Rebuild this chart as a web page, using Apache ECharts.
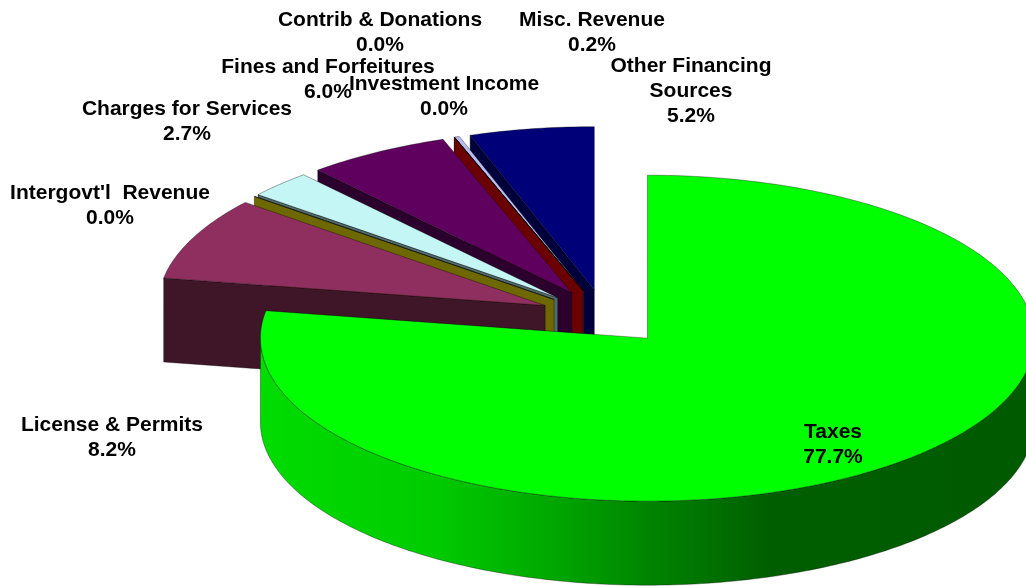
<!DOCTYPE html>
<html>

<head>
    <meta charset="utf-8">
    <title>Revenue pie</title>
    <script src="https://cdn.jsdelivr.net/npm/echarts@6/dist/echarts.min.js"></script>
    <style>
        html, body { margin: 0; padding: 0; background: #fff; }
        /* the source picture is a soft, resampled image */
        #main { filter: blur(0.45px); }
    </style>
</head>

<body>
    <div id="main" style="width: 1026px;height:586px;"></div>

    <script type="text/javascript">
        var categories = ['Taxes', 'License & Permits', "Intergovt'l  Revenue", 'Charges for Services',
            'Fines and Forfeitures', 'Investment Income', 'Contrib & Donations', 'Misc. Revenue',
            'Other Financing\nSources'];
        var values = [77.7, 8.2, 0.0, 2.7, 6.0, 0.0, 0.0, 0.2, 5.2];

        // top face and wall colours, same order as categories
        var topColors = ['#00ff00', '#8f2f5f', '#807a00', '#c4f6f6', '#5f005f', '#800000', '#7a0000', '#b8bcf0', '#000078'];
        var wallColors = ['#00a000', '#3e1628', '#6e6800', '#50696b', '#2c002c', '#6a0000', '#6a0000', '#8085b0', '#00003a'];

        // label anchors: centre x, top of first line
        var labelPos = [[833, 419], [112, 412], [110, 180], [187, 96], [328, 54], [444, 71], [380, 7], [592, 7], [691, 53]];

        var pie = { cx: 605, cy: 317, a: 387, b: 163, depth: 84, explode: 0.17 };

        var total = values.reduce(function (s, v) { return s + v; }, 0);
        var startDeg = [];
        var sum = 0;
        values.forEach(function (v) {
            startDeg.push(sum / total * 360);
            sum += v;
        });

        function pt(origin, deg, dy) {
            var r = deg * Math.PI / 180;
            return [origin[0] + pie.a * Math.sin(r), origin[1] - pie.b * Math.cos(r) + (dy || 0)];
        }

        function arc(origin, from, to, dy) {
            var out = [];
            var n = Math.max(1, Math.ceil(Math.abs(to - from)));
            for (var i = 0; i <= n; i++) {
                out.push(pt(origin, from + (to - from) * i / n, dy));
            }
            return out;
        }

        var edge = { stroke: 'rgba(0,0,0,0.5)', lineWidth: 0.7 };

        function renderSlice(params, api) {
            var idx = api.value(0);
            var s = startDeg[idx];
            var e = s + values[idx] / total * 360;
            var mid = (s + e) / 2 * Math.PI / 180;
            // each slice moves out along its own middle angle
            var o = [pie.cx + pie.explode * pie.a * Math.sin(mid), pie.cy - pie.explode * pie.b * Math.cos(mid)];
            var children = [];

            // cut wall on the start side only shows on the left half
            if (s > 180 && s < 360) {
                var outer = pt(o, s);
                children.push({
                    type: 'polygon',
                    shape: { points: [o, outer, [outer[0], outer[1] + pie.depth], [o[0], o[1] + pie.depth]] },
                    style: { fill: wallColors[idx], stroke: edge.stroke, lineWidth: edge.lineWidth }
                });
            }

            // outer rim, front half only
            var rimFrom = Math.max(s, 90);
            var rimTo = Math.min(e, 270);
            if (rimTo > rimFrom) {
                var lower = arc(o, rimTo, rimFrom, pie.depth);
                children.push({
                    type: 'polygon',
                    shape: { points: arc(o, rimFrom, rimTo).concat(lower) },
                    style: {
                        fill: new echarts.graphic.LinearGradient(0, 0, 1, 0, [
                            { offset: 0, color: '#00dc00' },
                            { offset: 0.22, color: '#00cc00' },
                            { offset: 0.375, color: '#00a800' },
                            { offset: 0.5, color: '#008500' },
                            { offset: 0.66, color: '#005e00' },
                            { offset: 1, color: '#005a00' }
                        ]),
                        stroke: edge.stroke,
                        lineWidth: edge.lineWidth
                    }
                });
            }

            // top face
            children.push({
                type: 'polygon',
                shape: { points: [o].concat(arc(o, s, e)) },
                style: { fill: topColors[idx], stroke: edge.stroke, lineWidth: edge.lineWidth }
            });

            return { type: 'group', children: children };
        }

        function renderLabel(params, api) {
            var idx = api.value(0);
            return {
                type: 'text',
                style: {
                    text: categories[idx] + '\n' + values[idx].toFixed(1) + '%',
                    x: labelPos[idx][0],
                    y: labelPos[idx][1] + 1,
                    align: 'center',
                    verticalAlign: 'top',
                    lineHeight: 25,
                    fill: '#000',
                    font: 'bold 21px "Liberation Sans", Arial, sans-serif'
                }
            };
        }

        // back to front: last category first, Taxes on top
        var drawOrder = categories.map(function (c, i) { return [categories.length - 1 - i]; });

        var myChart = echarts.init(document.getElementById('main'));
        var option = {
            animation: false,
            backgroundColor: '#fff',
            series: [{
                type: 'custom',
                coordinateSystem: 'none',
                renderItem: renderSlice,
                data: drawOrder,
                silent: true,
                z: 1
            }, {
                type: 'custom',
                coordinateSystem: 'none',
                renderItem: renderLabel,
                data: drawOrder,
                silent: true,
                z: 2
            }]
        };
        myChart.setOption(option);
    </script>
</body>

</html>
